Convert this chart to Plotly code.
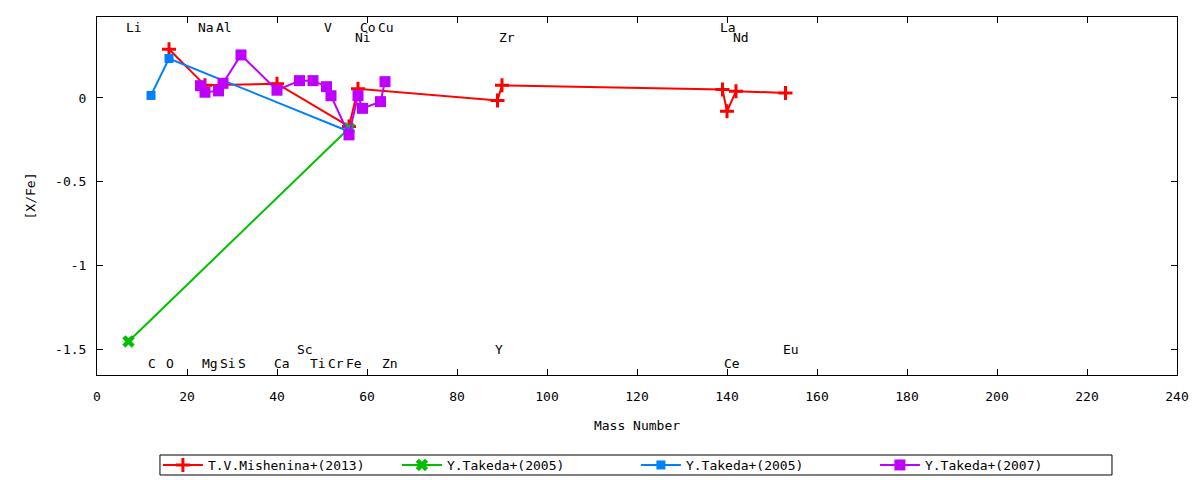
import plotly.graph_objects as go

FONT = "DejaVu Sans Mono"

# ---- data (mass number, [X/Fe]) ----
mishenina_A = [16, 24, 40, 56, 58, 89, 90, 139, 140, 142, 153]
mishenina_v = [0.29, 0.075, 0.085, -0.17, 0.055, -0.015, 0.075, 0.05, -0.08, 0.04, 0.03]

takeda05a_A = [7, 56]
takeda05a_v = [-1.45, -0.18]

takeda05b_A = [12, 16, 56]
takeda05b_v = [0.015, 0.235, -0.20]

takeda07_A = [23, 24, 27, 28, 32, 40, 45, 48, 51, 52, 56, 58, 59, 63, 64]
takeda07_v = [0.073, 0.034, 0.042, 0.087, 0.256, 0.046, 0.103, 0.103, 0.067,
              0.013, -0.22, 0.014, -0.062, -0.022, 0.097]

# element labels
elements = ["Li", "C", "O", "Na", "Mg", "Al", "Si", "S", "Ca", "Sc", "Ti", "V",
            "Cr", "Fe", "Co", "Ni", "Cu", "Zn", "Y", "Zr", "La", "Ce", "Nd", "Eu"]
elem_A = [7, 12, 16, 23, 24, 27, 28, 32, 40, 45, 48, 51,
          52, 56, 59, 58, 63, 64, 89, 90, 139, 140, 142, 153]
elem_y = [0.42, -1.58, -1.58, 0.42, -1.58, 0.42, -1.58, -1.58, -1.58, -1.5, -1.58, 0.42,
          -1.58, -1.58, 0.42, 0.36, 0.42, -1.58, -1.5, 0.36, 0.42, -1.58, 0.36, -1.5]

x_ticks = [0, 20, 40, 60, 80, 100, 120, 140, 160, 180, 200, 220, 240]
y_ticks = [0, -0.5, -1, -1.5]
y_tick_text = ["0", "-0.5", "-1", "-1.5"]

RED = "#FF0000"
GREEN = "#00C000"
BLUE = "#0080FF"
PURPLE = "#C000FF"

fig = go.Figure()
fig.add_trace(go.Scatter(
    x=mishenina_A, y=mishenina_v, mode="lines+markers", name="T.V.Mishenina+(2013)",
    line=dict(color=RED, width=2),
    marker=dict(symbol="cross-thin-open", size=10, color=RED, line=dict(color=RED, width=3)),
))
fig.add_trace(go.Scatter(
    x=takeda05a_A, y=takeda05a_v, mode="lines+markers", name="Y.Takeda+(2005)",
    line=dict(color=GREEN, width=2),
    marker=dict(symbol="x", size=11, color=GREEN, line=dict(width=0)),
))
fig.add_trace(go.Scatter(
    x=takeda05b_A, y=takeda05b_v, mode="lines+markers", name="Y.Takeda+(2005)",
    line=dict(color=BLUE, width=2),
    marker=dict(symbol="square", size=9, color=BLUE, line=dict(width=0)),
))
fig.add_trace(go.Scatter(
    x=takeda07_A, y=takeda07_v, mode="lines+markers", name="Y.Takeda+(2007)",
    line=dict(color=PURPLE, width=2),
    marker=dict(symbol="square", size=11, color=PURPLE, line=dict(width=0)),
))

annotations = []
for name, a, yv in zip(elements, elem_A, elem_y):
    annotations.append(dict(
        x=a, y=yv, xref="x", yref="y", text=name, showarrow=False,
        xanchor="left", yanchor="middle", xshift=-5,
        font=dict(family=FONT, size=13, color="black"),
    ))

fig.update_layout(
    width=1200, height=480,
    margin=dict(l=97, r=23, t=17, b=105, autoexpand=False),
    paper_bgcolor="white", plot_bgcolor="white",
    font=dict(family=FONT, size=13, color="black"),
    annotations=annotations,
    showlegend=True,
    legend=dict(
        orientation="h", x=0.499, xanchor="center", y=-0.2514, yanchor="middle",
        borderwidth=0, bgcolor="rgba(0,0,0,0)",
        entrywidth=184, entrywidthmode="pixels",
        font=dict(family=FONT, size=13),
        tracegroupgap=0, itemwidth=40,
    ),
    shapes=[dict(
        type="rect", xref="paper", yref="paper",
        x0=0.0583, x1=0.9398, y0=-0.2793, y1=-0.2235,
        line=dict(color="black", width=1), fillcolor="rgba(0,0,0,0)", layer="below",
    )],
    xaxis=dict(
        range=[0, 240], tickmode="array", tickvals=x_ticks,
        ticks="inside", ticklen=6, tickcolor="black",
        showline=True, linecolor="black", linewidth=1, mirror="ticks",
        showgrid=False, zeroline=False, ticklabelstandoff=9, automargin=False,
        title=dict(text="Mass Number", standoff=18, font=dict(family=FONT, size=13)),
    ),
    yaxis=dict(
        range=[-1.65, 0.482], tickmode="array", tickvals=y_ticks, ticktext=y_tick_text,
        ticks="inside", ticklen=6, tickcolor="black",
        showline=True, linecolor="black", linewidth=1, mirror="ticks",
        showgrid=False, zeroline=False, ticklabelstandoff=7, automargin=False,
        title=dict(text="[X/Fe]", standoff=16, font=dict(family=FONT, size=13)),
    ),
)

fig.write_html(
    "out.html",
    config={"displayModeBar": False},
    post_script="document.body.style.margin='0';document.body.style.padding='0';",
)
